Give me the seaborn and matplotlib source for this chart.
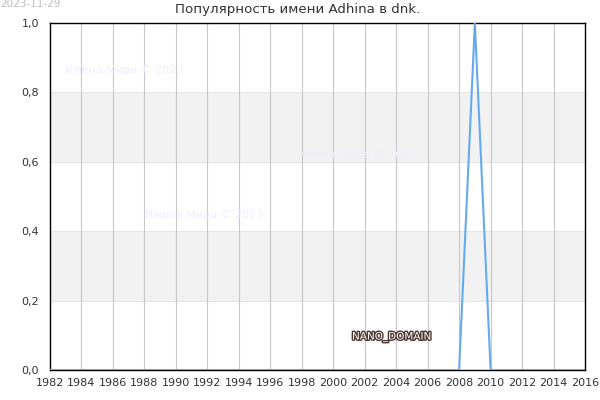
import matplotlib
matplotlib.use("Agg")
import matplotlib.pyplot as plt
import matplotlib.patheffects as pe
import seaborn as sns
import pandas as pd

years = list(range(1982, 2017))
values = [0.0] * len(years)
values[years.index(2009)] = 1.0

title = "Популярность имени Adhina в dnk."
date_label = "2023-11-29"
watermark = "Имена Мира © 2023"
nano = "NANO_DOMAIN"

sns.set_theme(style="white")
plt.rcParams['font.family'] = ['DejaVu Sans']

df = pd.DataFrame({"year": years, "value": values})

fig = plt.figure(figsize=(6, 4), dpi=100)
ax = fig.add_axes([50/600, 1-370/400, 535/600, 347/400])

# alternating bands
for lo, hi in [(0.2, 0.4), (0.6, 0.8)]:
    ax.axhspan(lo, hi, color="#f2f2f2", zorder=0, lw=0)
for yv in [0.2, 0.4, 0.6, 0.8]:
    ax.axhline(yv, color="#e6e6e6", lw=0.8, zorder=0.5)
for xv in range(1984, 2016, 2):
    ax.axvline(xv, color="#c8c8c8", lw=0.8, zorder=0.5)

sns.lineplot(data=df, x="year", y="value", ax=ax, color="#66aaee", lw=1.5, zorder=3)

ax.set_xlim(1982, 2016)
ax.set_ylim(0, 1.0)
ax.set_xticks(range(1982, 2017, 2))
ax.set_xticklabels([str(y) for y in range(1982, 2017, 2)], fontsize=8, color="#333333")
yt = [0, 0.2, 0.4, 0.6, 0.8, 1.0]
ax.set_yticks(yt)
ax.set_yticklabels([f"{v:.1f}".replace(".", ",") for v in yt], fontsize=8, color="#333333")
ax.set_xlabel("")
ax.set_ylabel("")
ax.tick_params(axis="x", length=0, pad=6)
ax.tick_params(axis="y", length=0, pad=8)
for s in ax.spines.values():
    s.set_color("black")
    s.set_linewidth(1.0)

fig.text(298/600, 1-10/400, title, ha="center", va="center", fontsize=9.6, color="#333333")
fig.text(0, 1-4/400, date_label, ha="left", va="center", fontsize=7.5, color="#bbbbbb")

for (px, py) in [(65, 70), (298, 155), (145, 215)]:
    fig.text(px/600, 1-py/400, watermark, ha="left", va="center", fontsize=8, color="#eeeeff")

fig.text(352/600, 1-337/400, nano, ha="left", va="center", fontsize=7.5, color="white",
         path_effects=[pe.withStroke(linewidth=2, foreground="#4a3530")])

fig.savefig("out.png", dpi=100)
